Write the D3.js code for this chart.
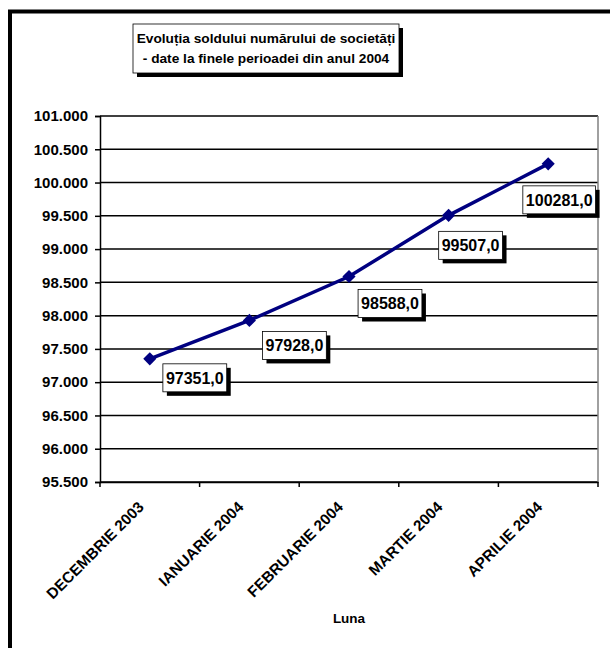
<!DOCTYPE html>
<html>
<head>
<meta charset="utf-8">
<script src="https://cdn.jsdelivr.net/npm/d3@7"></script>
<style>
  body { margin: 0; background: #fff; }
  text { font-family: Arial, "Liberation Sans", sans-serif; font-weight: bold; }
</style>
</head>
<body>
<div id="chart"></div>
<script>
// date
var luni = ["DECEMBRIE 2003", "IANUARIE 2004", "FEBRUARIE 2004", "MARTIE 2004", "APRILIE 2004"];
var solduri = [97351, 97928, 98588, 99507, 100281];
var yTicks = [95500, 96000, 96500, 97000, 97500, 98000, 98500, 99000, 99500, 100000, 100500, 101000];
var titlu = ["Evoluția soldului numărului de societăți", "- date la finele perioadei din anul 2004"];
var axaX = "Luna";

// pozitia etichetelor fata de punct (manual, ca in original)
var labelOffset = [[45, 19], [45, 25], [41, 27], [22, 30], [11, 36]];

var svg_w = 610, svg_h = 648;
var pLeft = 100, pRight = 598, pTop = 116, pBottom = 482;

var svg = d3.select("#chart").append("svg")
	.attr("width", svg_w)
	.attr("height", svg_h);

// chenarul exterior
svg.append("rect")
	.attr("x", 10).attr("y", 11.5)
	.attr("width", 700).attr("height", 700)
	.attr("fill", "none")
	.attr("stroke", "#000")
	.attr("stroke-width", 4);

var x = d3.scaleBand()
	.domain(luni)
	.range([pLeft, pRight]);

var y = d3.scaleLinear()
	.domain([95500, 101000])
	.range([pBottom, pTop]);

var fmt = function(d) { return d3.format(",")(d).replace(/,/g, "."); };

// grila
svg.append("g")
	.selectAll("line")
	.data(yTicks)
	.enter()
	.append("line")
	.attr("x1", pLeft).attr("x2", pRight)
	.attr("y1", function(d) { return y(d); })
	.attr("y2", function(d) { return y(d); })
	.attr("stroke", "#000")
	.attr("stroke-width", 1.5);

// marginea dreapta
svg.append("line")
	.attr("x1", pRight).attr("x2", pRight)
	.attr("y1", pTop).attr("y2", pBottom)
	.attr("stroke", "#808080")
	.attr("stroke-width", 1.5);

// axa Y
var yAxis = d3.axisLeft(y).tickValues(yTicks).tickFormat(fmt).tickSize(5).tickPadding(7);
var gy = svg.append("g")
	.attr("transform", "translate(" + pLeft + ",0)")
	.call(yAxis);
gy.select(".domain").attr("stroke-width", 1.5);
gy.selectAll(".tick line").attr("stroke-width", 1.5);
gy.selectAll("text")
	.attr("font-size", 15)
	.attr("font-family", "Arial, 'Liberation Sans', sans-serif")
	.attr("font-weight", "bold")
	.attr("fill", "#000");

// axa X
var xAxis = d3.axisBottom(x).tickSize(5).tickSizeOuter(0);
var gx = svg.append("g")
	.attr("transform", "translate(0," + pBottom + ")")
	.call(xAxis);
gx.select(".domain").attr("stroke-width", 1.5);
gx.selectAll(".tick line")
	.attr("stroke-width", 1.5)
	.attr("transform", "translate(" + (-x.bandwidth() / 2) + ",0)");
// ultima liniuta
gx.append("line")
	.attr("x1", pRight).attr("x2", pRight)
	.attr("y1", 0).attr("y2", 5)
	.attr("stroke", "#000").attr("stroke-width", 1.5);
gx.selectAll(".tick text")
	.attr("font-size", 15.3)
	.attr("font-family", "Arial, 'Liberation Sans', sans-serif")
	.attr("font-weight", "bold")
	.attr("fill", "#000")
	.attr("text-anchor", "end")
	.attr("y", 0).attr("dy", 0)
	.attr("transform", "translate(-5,26) rotate(-45)");

svg.append("text")
	.attr("x", (pLeft + pRight) / 2)
	.attr("y", 623)
	.attr("text-anchor", "middle")
	.attr("font-size", 13.5)
	.text(axaX);

// linia
var cx = function(d, i) { return x(luni[i]) + x.bandwidth() / 2; };
var line = d3.line()
	.x(function(d, i) { return cx(d, i); })
	.y(function(d) { return y(d); });

svg.append("path")
	.datum(solduri)
	.attr("d", line)
	.attr("fill", "none")
	.attr("stroke", "#000080")
	.attr("stroke-width", 3.5);

svg.selectAll(".marker")
	.data(solduri)
	.enter()
	.append("path")
	.attr("class", "marker")
	.attr("d", d3.symbol().type(d3.symbolDiamond2).size(110))
	.attr("transform", function(d, i) { return "translate(" + cx(d, i) + "," + y(d) + ")"; })
	.attr("fill", "#000080");

// etichete cu umbra
var lbl = svg.selectAll(".lbl")
	.data(solduri)
	.enter()
	.append("g")
	.attr("class", "lbl")
	.attr("transform", function(d, i) {
		return "translate(" + (cx(d, i) + labelOffset[i][0]) + "," + (y(d) + labelOffset[i][1]) + ")";
	});

lbl.each(function(d) {
	var g = d3.select(this);
	var t = g.append("text")
		.attr("text-anchor", "middle")
		.attr("dy", "0.36em")
		.attr("font-size", 16)
		.text(d3.format(".1f")(d).replace(".", ","));
	var w = t.node().getComputedTextLength() + 6, h = 28;
	g.insert("rect", "text")
		.attr("x", -w / 2 + 4).attr("y", -h / 2 + 4)
		.attr("width", w).attr("height", h)
		.attr("fill", "#000");
	g.insert("rect", "text")
		.attr("x", -w / 2).attr("y", -h / 2)
		.attr("width", w).attr("height", h)
		.attr("fill", "#fff")
		.attr("stroke", "#000")
		.attr("stroke-width", 0.8);
});

// titlul
var tg = svg.append("g").attr("transform", "translate(266,48)");
tg.append("rect")
	.attr("x", -129).attr("y", -20)
	.attr("width", 266).attr("height", 49)
	.attr("fill", "#000");
tg.append("rect")
	.attr("x", -133).attr("y", -24)
	.attr("width", 266).attr("height", 49)
	.attr("fill", "#fff")
	.attr("stroke", "#000")
	.attr("stroke-width", 0.8);
tg.selectAll("text.t")
	.data(titlu)
	.enter()
	.append("text")
	.attr("class", "t")
	.attr("text-anchor", "middle")
	.attr("y", function(d, i) { return -5 + i * 20; })
	.attr("font-size", 13.7)
	.text(function(d) { return d; });
</script>
</body>
</html>
